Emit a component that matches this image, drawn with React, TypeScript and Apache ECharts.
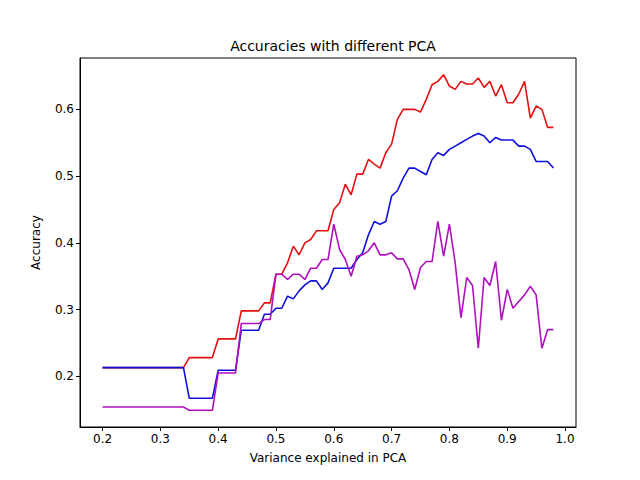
import * as echarts from "echarts";
import { useEffect, useRef } from "react";

const X = Array.from({ length: 79 }, (_, i) => +(0.2 + i * 0.01).toFixed(2));

const rep = (v: number, n: number) => Array(n).fill(v);

const RED = [
  ...rep(0.213, 15), ...rep(0.228, 5), ...rep(0.256, 4), ...rep(0.298, 4),
  0.31, 0.31, 0.353, 0.353, 0.37, 0.395, 0.382, 0.4, 0.405, 0.418, 0.418, 0.418,
  0.45, 0.46, 0.488, 0.472, 0.503, 0.503, 0.525, 0.518, 0.512, 0.535, 0.548,
  0.585, 0.6, 0.6, 0.6, 0.596, 0.615, 0.637, 0.642, 0.652, 0.635, 0.63, 0.642,
  0.638, 0.638, 0.647, 0.633, 0.642, 0.62, 0.637, 0.61, 0.61, 0.623, 0.642,
  0.587, 0.605, 0.6, 0.573, 0.573,
];

const BLUE = [
  ...rep(0.213, 15), ...rep(0.167, 5), ...rep(0.209, 4), ...rep(0.269, 4),
  0.293, 0.293, 0.302, 0.302, 0.32, 0.316, 0.328, 0.337, 0.343, 0.343, 0.33,
  0.34, 0.362, 0.362, 0.362, 0.362, 0.375, 0.385, 0.412, 0.432, 0.428, 0.432,
  0.47, 0.478, 0.497, 0.512, 0.512, 0.507, 0.502, 0.525, 0.535, 0.531, 0.54,
  0.545, 0.55, 0.555, 0.56, 0.564, 0.56, 0.55, 0.558, 0.554, 0.554, 0.554,
  0.545, 0.545, 0.54, 0.522, 0.522, 0.522, 0.512,
];

const MAGENTA = [
  ...rep(0.154, 15), ...rep(0.149, 5), ...rep(0.205, 4), ...rep(0.279, 4),
  0.285, 0.285, 0.353, 0.353, 0.345, 0.353, 0.353, 0.345, 0.362, 0.362, 0.375,
  0.375, 0.428, 0.39, 0.375, 0.35, 0.38, 0.382, 0.388, 0.4, 0.382, 0.382, 0.385,
  0.376, 0.376, 0.36, 0.33, 0.363, 0.372, 0.372, 0.432, 0.38, 0.428, 0.37,
  0.288, 0.348, 0.336, 0.242, 0.348, 0.336, 0.372, 0.284, 0.33, 0.302, 0.312,
  0.322, 0.335, 0.322, 0.242, 0.27, 0.27,
];

const X_TICKS = [0.2, 0.3, 0.4, 0.5, 0.6, 0.7, 0.8, 0.9, 1.0];
const Y_TICKS = [0.2, 0.3, 0.4, 0.5, 0.6];

const FONT = "DejaVu Sans";
const INK = "#000000";

export default function App() {
  const ref = useRef<HTMLDivElement>(null);

  useEffect(() => {
    const el = ref.current;
    if (!el) return;
    const chart = echarts.init(el, null, { renderer: "svg" });
    const line = (data: number[], color: string) => ({
      type: "line",
      data: X.map((x, i) => [x, data[i]]),
      showSymbol: false,
      lineStyle: { color, width: 1.6 },
      itemStyle: { color },
    });
    const axisBase = {
      axisLine: { show: true, onZero: false, lineStyle: { color: INK, width: 1 } },
      axisTick: { show: true, length: 4, inside: false, lineStyle: { color: INK } },
      splitLine: { show: false },
      nameTextStyle: { color: INK, fontFamily: FONT, fontSize: 12 },
      nameLocation: "middle",
    };
    chart.setOption({
      animation: false,
      title: {
        text: "Accuracies with different PCA",
        left: 328,
        top: 34,
        textAlign: "center",
        textStyle: { color: INK, fontFamily: FONT, fontSize: 14, fontWeight: "normal" },
      },
      grid: { left: 80, right: 64, top: 58, bottom: 53, show: true, borderColor: INK, borderWidth: 1 },
      xAxis: {
        ...axisBase,
        type: "value",
        min: 0.161,
        max: 1.019,
        name: "Variance explained in PCA",
        nameGap: 25,
        axisTick: { ...axisBase.axisTick, customValues: X_TICKS },
        axisLabel: {
          customValues: X_TICKS,
          color: INK, fontFamily: FONT, fontSize: 12, margin: 6,
          formatter: (v: number) => v.toFixed(1),
        },
      },
      yAxis: {
        ...axisBase,
        type: "value",
        min: 0.124,
        max: 0.677,
        name: "Accuracy",
        nameGap: 38,
        axisTick: { ...axisBase.axisTick, customValues: Y_TICKS },
        axisLabel: {
          customValues: Y_TICKS,
          color: INK, fontFamily: FONT, fontSize: 12, margin: 6,
          formatter: (v: number) => v.toFixed(1),
        },
      },
      series: [line(RED, "#e41010"), line(BLUE, "#1010dd"), line(MAGENTA, "#b010c0")],
    });
    return () => chart.dispose();
  }, []);

  return (
    <div
      ref={ref}
      style={{ position: "fixed", left: 0, top: 0, width: 640, height: 480, background: "#fff" }}
    />
  );
}
